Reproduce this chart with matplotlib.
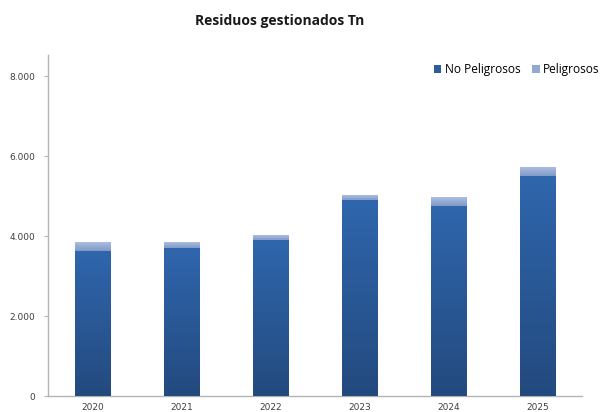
import matplotlib
matplotlib.use("Agg")
import matplotlib.pyplot as plt
import numpy as np
from matplotlib.colors import LinearSegmentedColormap
from matplotlib.ticker import FuncFormatter

years = ["2020", "2021", "2022", "2023", "2024", "2025"]
no_peligrosos = [3630, 3700, 3900, 4900, 4760, 5510]
peligrosos = [220, 150, 125, 125, 215, 210]
title = "Residuos gestionados Tn"
y_ticks = [0, 2000, 4000, 6000, 8000]

fig = plt.figure(figsize=(6.03, 4.12), dpi=100)
ax = fig.add_axes([48/603, 1-396/412, (582-48)/603, (396-55)/412])

x = np.arange(len(years))
w = 0.4
np_col = "#2c5c9c"
p_col = "#93a9d3"
b1 = ax.bar(x, no_peligrosos, width=w, color=np_col, label="No Peligrosos", zorder=2,
            edgecolor="#d8dce4", linewidth=0.6)
b2 = ax.bar(x, peligrosos, width=w, bottom=no_peligrosos, color=p_col, label="Peligrosos",
            zorder=2, edgecolor="#d8dce4", linewidth=0.6)

cm_np = LinearSegmentedColormap.from_list("np", ["#234a7e", "#2f66ad"])
cm_p = LinearSegmentedColormap.from_list("p", ["#8199c6", "#abbee2"])
grad = np.linspace(0, 1, 256).reshape(-1, 1)
for bars, cm in ((b1, cm_np), (b2, cm_p)):
    for r in bars:
        x0, y0 = r.get_x(), r.get_y()
        im = ax.imshow(grad, cmap=cm, origin="lower", aspect="auto",
                       extent=(x0, x0 + r.get_width(), y0, y0 + r.get_height()),
                       zorder=3, interpolation="bilinear")
        im.set_clip_path(r)

ax.set_xlim(-0.5, len(years) - 0.5)
ax.set_ylim(0, 8525)
ax.set_xticks(x)
ax.set_xticklabels(years)
ax.set_yticks(y_ticks)
ax.yaxis.set_major_formatter(FuncFormatter(lambda v, p: f"{int(v):,}".replace(",", ".")))
for s in ("top", "right"):
    ax.spines[s].set_visible(False)
for s in ("left", "bottom"):
    ax.spines[s].set_color("#b4b4b4")
    ax.spines[s].set_linewidth(1.0)
ax.tick_params(axis="y", length=3, color="#b4b4b4", labelsize=6.5, labelcolor="#404040", pad=6)
ax.tick_params(axis="x", length=0, labelsize=6.5, labelcolor="#404040", pad=5)

fig.text(0.463, 0.948, title, ha="center", va="center", fontsize=10, fontweight="bold",
         family="Open Sans", color="#1a1a1a")

leg = ax.legend(loc="upper right", bbox_to_anchor=(1.042, 0.99), ncol=2, frameon=False,
                prop={"family": "Open Sans", "size": 8.6}, handlelength=0.6, handleheight=0.6,
                handletextpad=0.3, columnspacing=1.0, borderaxespad=0)
for h in leg.legend_handles:
    h.set_edgecolor("none")

fig.savefig("out.png", dpi=100)
